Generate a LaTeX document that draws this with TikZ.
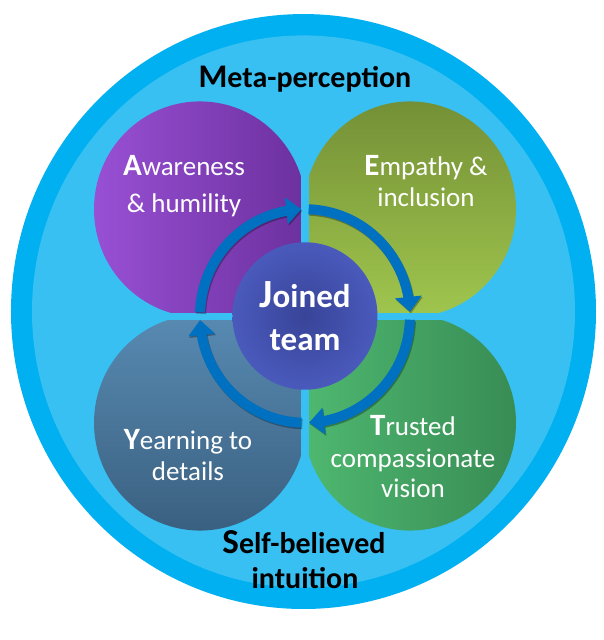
\documentclass[tikz,border=0pt]{standalone}
\usepackage{fontspec}
\setmainfont{Carlito}
\usetikzlibrary{arrows.meta,bending}
\definecolor{ringout}{RGB}{0,176,240}
\definecolor{ringin}{RGB}{56,192,242}
\definecolor{purA}{RGB}{152,80,212}
\definecolor{purB}{RGB}{108,48,158}
\definecolor{olA}{RGB}{116,144,54}
\definecolor{olB}{RGB}{160,198,78}
\definecolor{stA}{RGB}{88,138,178}
\definecolor{stB}{RGB}{58,96,128}
\definecolor{grA}{RGB}{78,184,112}
\definecolor{grB}{RGB}{56,140,84}
\definecolor{ctrA}{RGB}{56,68,152}
\definecolor{ctrB}{RGB}{74,90,188}
\definecolor{arr}{RGB}{0,112,192}
\newcommand\firstL[2]{{\fontsize{#1}{#1}\selectfont\bfseries #2}}
\tikzset{
  lbl/.style={text=white, font=\fontsize{27}{32}\selectfont, anchor=base, inner sep=0pt},
  hd/.style={text=black, font=\fontsize{30}{34}\selectfont\bfseries, anchor=base, inner sep=0pt},
  jt/.style={text=white, font=\fontsize{33}{38}\selectfont\bfseries, anchor=base, inner sep=0pt},
  flow/.style={arr, line width=10pt, -{Triangle[flex, length=15pt, width=26pt]}},
  flowshadow/.style={black, opacity=.3, line width=10pt, -{Triangle[flex, length=15pt, width=26pt]}}
}
\begin{document}
\begin{tikzpicture}[x=1pt,y=1pt]
\useasboundingbox (-305,-324) rectangle (299,316);
\fill[white] (-305,-324) rectangle (299,316);
\begin{scope}[yscale=1.017]
  \fill[ringout] (-1.5,4.4) circle (292.5);
  \fill[ringin] (-1.5,4.4) circle (271.5);
  % quadrant shapes
  \shade[left color=purA, right color=purB]
    (1,-1) -- (1,105) arc[start angle=0, end angle=270, radius=106] -- cycle;
  \shade[top color=olA, bottom color=olB]
    (-1,-1) -- (105,-1) arc[start angle=270, end angle=540, radius=106] -- cycle;
  \shade[left color=grA, right color=grB]
    (-1,1) -- (-1,-105) arc[start angle=180, end angle=450, radius=106] -- cycle;
  \shade[top color=stA, bottom color=stB]
    (1,1) -- (-105,1) arc[start angle=90, end angle=360, radius=106] -- cycle;
  % separating cross
  \draw[ringin, line width=7pt] (0,-215) -- (0,215) (-215,0) -- (215,0);
  % circular arrows
  \begin{scope}[shift={(1,-1.5)}]
    \draw[flowshadow] (178:105) arc[start angle=178, end angle=92, radius=105];
    \draw[flowshadow] (88:105) arc[start angle=88, end angle=2.2, radius=105];
    \draw[flowshadow] (-2:105) arc[start angle=-2, end angle=-87.8, radius=105];
    \draw[flowshadow] (-92:105) arc[start angle=-92, end angle=-177.8, radius=105];
  \end{scope}
  \draw[flow] (178:105) arc[start angle=178, end angle=92, radius=105];
  \draw[flow] (88:105) arc[start angle=88, end angle=2.2, radius=105];
  \draw[flow] (-2:105) arc[start angle=-2, end angle=-87.8, radius=105];
  \draw[flow] (-92:105) arc[start angle=-92, end angle=-177.8, radius=105];
  % centre
  \shade[inner color=ctrA, outer color=ctrB] (0,0) circle (72.5);
\end{scope}
% texts
\node[hd] (meta) at (0,228) {\firstL{33}{M}eta-perception};
\node[lbl] (aw1) at (-121,140) {\firstL{31}{A}wareness};
\node[lbl] (aw2) at (-121,103) {\& humility};
\node[lbl] (em1) at (121,140) {\firstL{31}{E}mpathy \&};
\node[lbl] (em2) at (121,109) {inclusion};
\node[jt] (jo1) at (0,9) {\firstL{40}{J}oined};
\node[jt] (jo2) at (0,-34) {team};
\node[lbl] (ye1) at (-117,-133) {\firstL{31}{Y}earning to};
\node[lbl] (ye2) at (-117,-164) {details};
\node[lbl] (tr1) at (108,-119) {\firstL{31}{T}rusted};
\node[lbl] (tr2) at (108,-151) {compassionate};
\node[lbl] (tr3) at (108,-181) {vision};
\node[hd] (se1) at (-1,-237) {\firstL{35}{S}elf-believed};
\node[hd] (se2) at (0,-272) {intuition};
\end{tikzpicture}
\end{document}
